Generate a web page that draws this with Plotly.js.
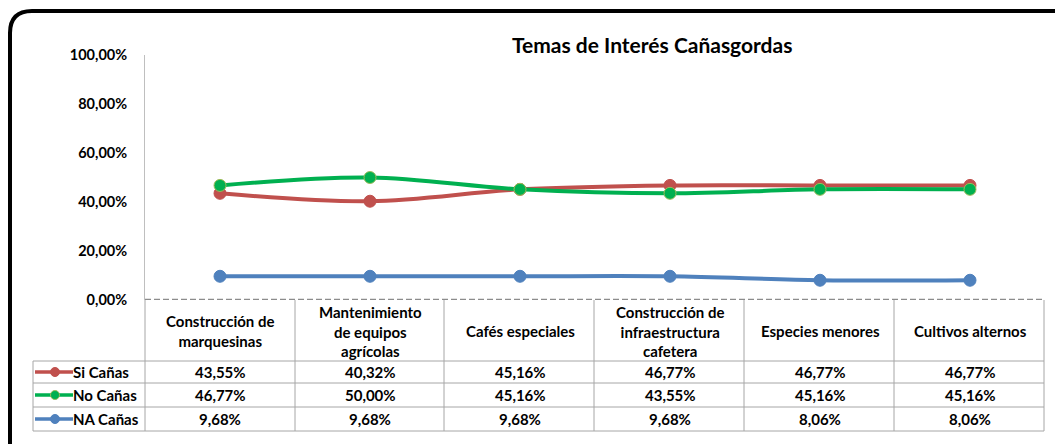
<!DOCTYPE html>
<html>
<head>
<meta charset="utf-8">
<script src="https://cdn.plot.ly/plotly-3.0.1.min.js"></script>
<style>html,body{margin:0;padding:0;background:#fff;}#chart{width:1055px;height:444px;}</style>
</head>
<body>
<div id="chart"></div>
<script>
var categories = ["Construcción de<br>marquesinas", "Mantenimiento<br>de equipos<br>agrícolas", "Cafés especiales", "Construcción de<br>infraestructura<br>cafetera", "Especies menores", "Cultivos alternos"];
var seriesNames = ["Si Cañas", "No Cañas", "NA Cañas"];
var siCanas = [43.55, 40.32, 45.16, 46.77, 46.77, 46.77];
var noCanas = [46.77, 50.00, 45.16, 43.55, 45.16, 45.16];
var naCanas = [9.68, 9.68, 9.68, 9.68, 8.06, 8.06];
var yTickVals = [0, 20, 40, 60, 80, 100];
var yTickText = ["0,00%", "20,00%", "40,00%", "60,00%", "80,00%", "100,00%"];
var chartTitle = "Temas de Interés Cañasgordas";

var W = 1055, H = 444;
function X(p){ return p / W; }
function Y(p){ return 1 - p / H; }
var FONT = "Lato, 'Open Sans', sans-serif";
var colors = ["#C0504D", "#00B050", "#4F81BD"];
var outlines = ["#C0504D", "#9BBB59", "#4F81BD"];
var seriesData = [siCanas, noCanas, naCanas];

function fmt(v){ return v.toFixed(2).replace('.', ',') + '%'; }

var traces = seriesData.map(function(d, i){
  return {
    type: 'scatter', mode: 'lines+markers', name: seriesNames[i],
    x: categories, y: d,
    line: {color: colors[i], width: 4, shape: 'spline', smoothing: 1},
    marker: {color: colors[i], size: 12, line: {color: outlines[i], width: 1}},
    cliponaxis: false, hoverinfo: 'skip'
  };
});

var plotL = 145, plotR = 1045, yTop = 55, yBot = 300;
var rowLines = [361, 383, 407, 431];
var colX = [145, 295, 444, 594, 744, 894, 1044];
var legendLeft = 33;
var grid = '#A6A6A6';

var shapes = [];
(function(){
  var l = 10, t = 11, r = 1085, b = 470, rad = 22;
  var path = 'M ' + X(l) + ' ' + Y(t + rad) +
    ' Q ' + X(l) + ' ' + Y(t) + ' ' + X(l + rad) + ' ' + Y(t) +
    ' L ' + X(r - rad) + ' ' + Y(t) +
    ' Q ' + X(r) + ' ' + Y(t) + ' ' + X(r) + ' ' + Y(t + rad) +
    ' L ' + X(r) + ' ' + Y(b - rad) +
    ' Q ' + X(r) + ' ' + Y(b) + ' ' + X(r - rad) + ' ' + Y(b) +
    ' L ' + X(l + rad) + ' ' + Y(b) +
    ' Q ' + X(l) + ' ' + Y(b) + ' ' + X(l) + ' ' + Y(b - rad) + ' Z';
  shapes.push({type: 'path', xref: 'paper', yref: 'paper', path: path, line: {color: '#000', width: 4}, layer: 'below'});
})();
rowLines.forEach(function(ry){
  shapes.push({type: 'line', xref: 'paper', yref: 'paper', x0: X(legendLeft), x1: X(colX[colX.length - 1]), y0: Y(ry), y1: Y(ry), line: {color: grid, width: 1}});
});
colX.forEach(function(cx){
  shapes.push({type: 'line', xref: 'paper', yref: 'paper', x0: X(cx), x1: X(cx), y0: Y(yBot), y1: Y(rowLines[3]), line: {color: grid, width: 1}});
});
shapes.push({type: 'line', xref: 'paper', yref: 'paper', x0: X(legendLeft), x1: X(legendLeft), y0: Y(rowLines[0]), y1: Y(rowLines[3]), line: {color: grid, width: 1}});
shapes.push({type: 'line', xref: 'paper', yref: 'y', x0: X(plotL), x1: X(plotR), y0: 0, y1: 0, line: {color: '#8C8C8C', width: 2.5, dash: '6px,3px'}});

var annotations = [];
annotations.push({text: '<b>' + chartTitle + '</b>', xref: 'paper', yref: 'paper', x: X(652), y: Y(45), xanchor: 'center', yanchor: 'middle', showarrow: false, font: {family: FONT, size: 21, color: '#000'}});
categories.forEach(function(c){
  annotations.push({text: '<b>' + c + '</b>', xref: 'x', yref: 'paper', x: c, y: Y(331), xanchor: 'center', yanchor: 'middle', showarrow: false, font: {family: FONT, size: 15, color: '#000'}, align: 'center'});
});
seriesData.forEach(function(d, i){
  var cy = (rowLines[i] + rowLines[i + 1]) / 2;
  d.forEach(function(v, j){
    annotations.push({text: '<b>' + fmt(v) + '</b>', xref: 'x', yref: 'paper', x: categories[j], y: Y(cy), xanchor: 'center', yanchor: 'middle', showarrow: false, font: {family: FONT, size: 15, color: '#000'}});
  });
  annotations.push({text: '<b>' + seriesNames[i] + '</b>', xref: 'paper', yref: 'paper', x: X(71), y: Y(cy), xanchor: 'left', yanchor: 'middle', showarrow: false, font: {family: FONT, size: 15, color: '#000'}});
  shapes.push({type: 'line', xref: 'paper', yref: 'paper', x0: X(35), x1: X(73), y0: Y(cy), y1: Y(cy), line: {color: colors[i], width: 3.5}});
  shapes.push({type: 'circle', xref: 'paper', yref: 'paper', x0: X(50.5), x1: X(59.5), y0: Y(cy - 4.5), y1: Y(cy + 4.5), fillcolor: colors[i], line: {color: outlines[i], width: 1}});
});

var layout = {
  width: W, height: H,
  margin: {l: 0, r: 0, t: 0, b: 0},
  paper_bgcolor: '#fff', plot_bgcolor: 'rgba(0,0,0,0)',
  showlegend: false,
  xaxis: {domain: [X(plotL), X(plotR)], type: 'category', range: [-0.5, 5.5], showticklabels: false, showgrid: false, zeroline: false, showline: false, fixedrange: true},
  yaxis: {domain: [Y(yBot), Y(yTop)], range: [0, 100], tickvals: yTickVals, ticktext: yTickText, showgrid: false, zeroline: false,
          showline: true, linecolor: '#BFBFBF', linewidth: 1, ticks: 'outside', ticklen: 14, tickcolor: 'rgba(0,0,0,0)',
          tickfont: {family: FONT, size: 14.5, color: '#000', weight: 'bold'}, fixedrange: true},
  shapes: shapes,
  annotations: annotations
};

Plotly.newPlot('chart', traces, layout, {displayModeBar: false, staticPlot: true});
</script>
</body>
</html>
